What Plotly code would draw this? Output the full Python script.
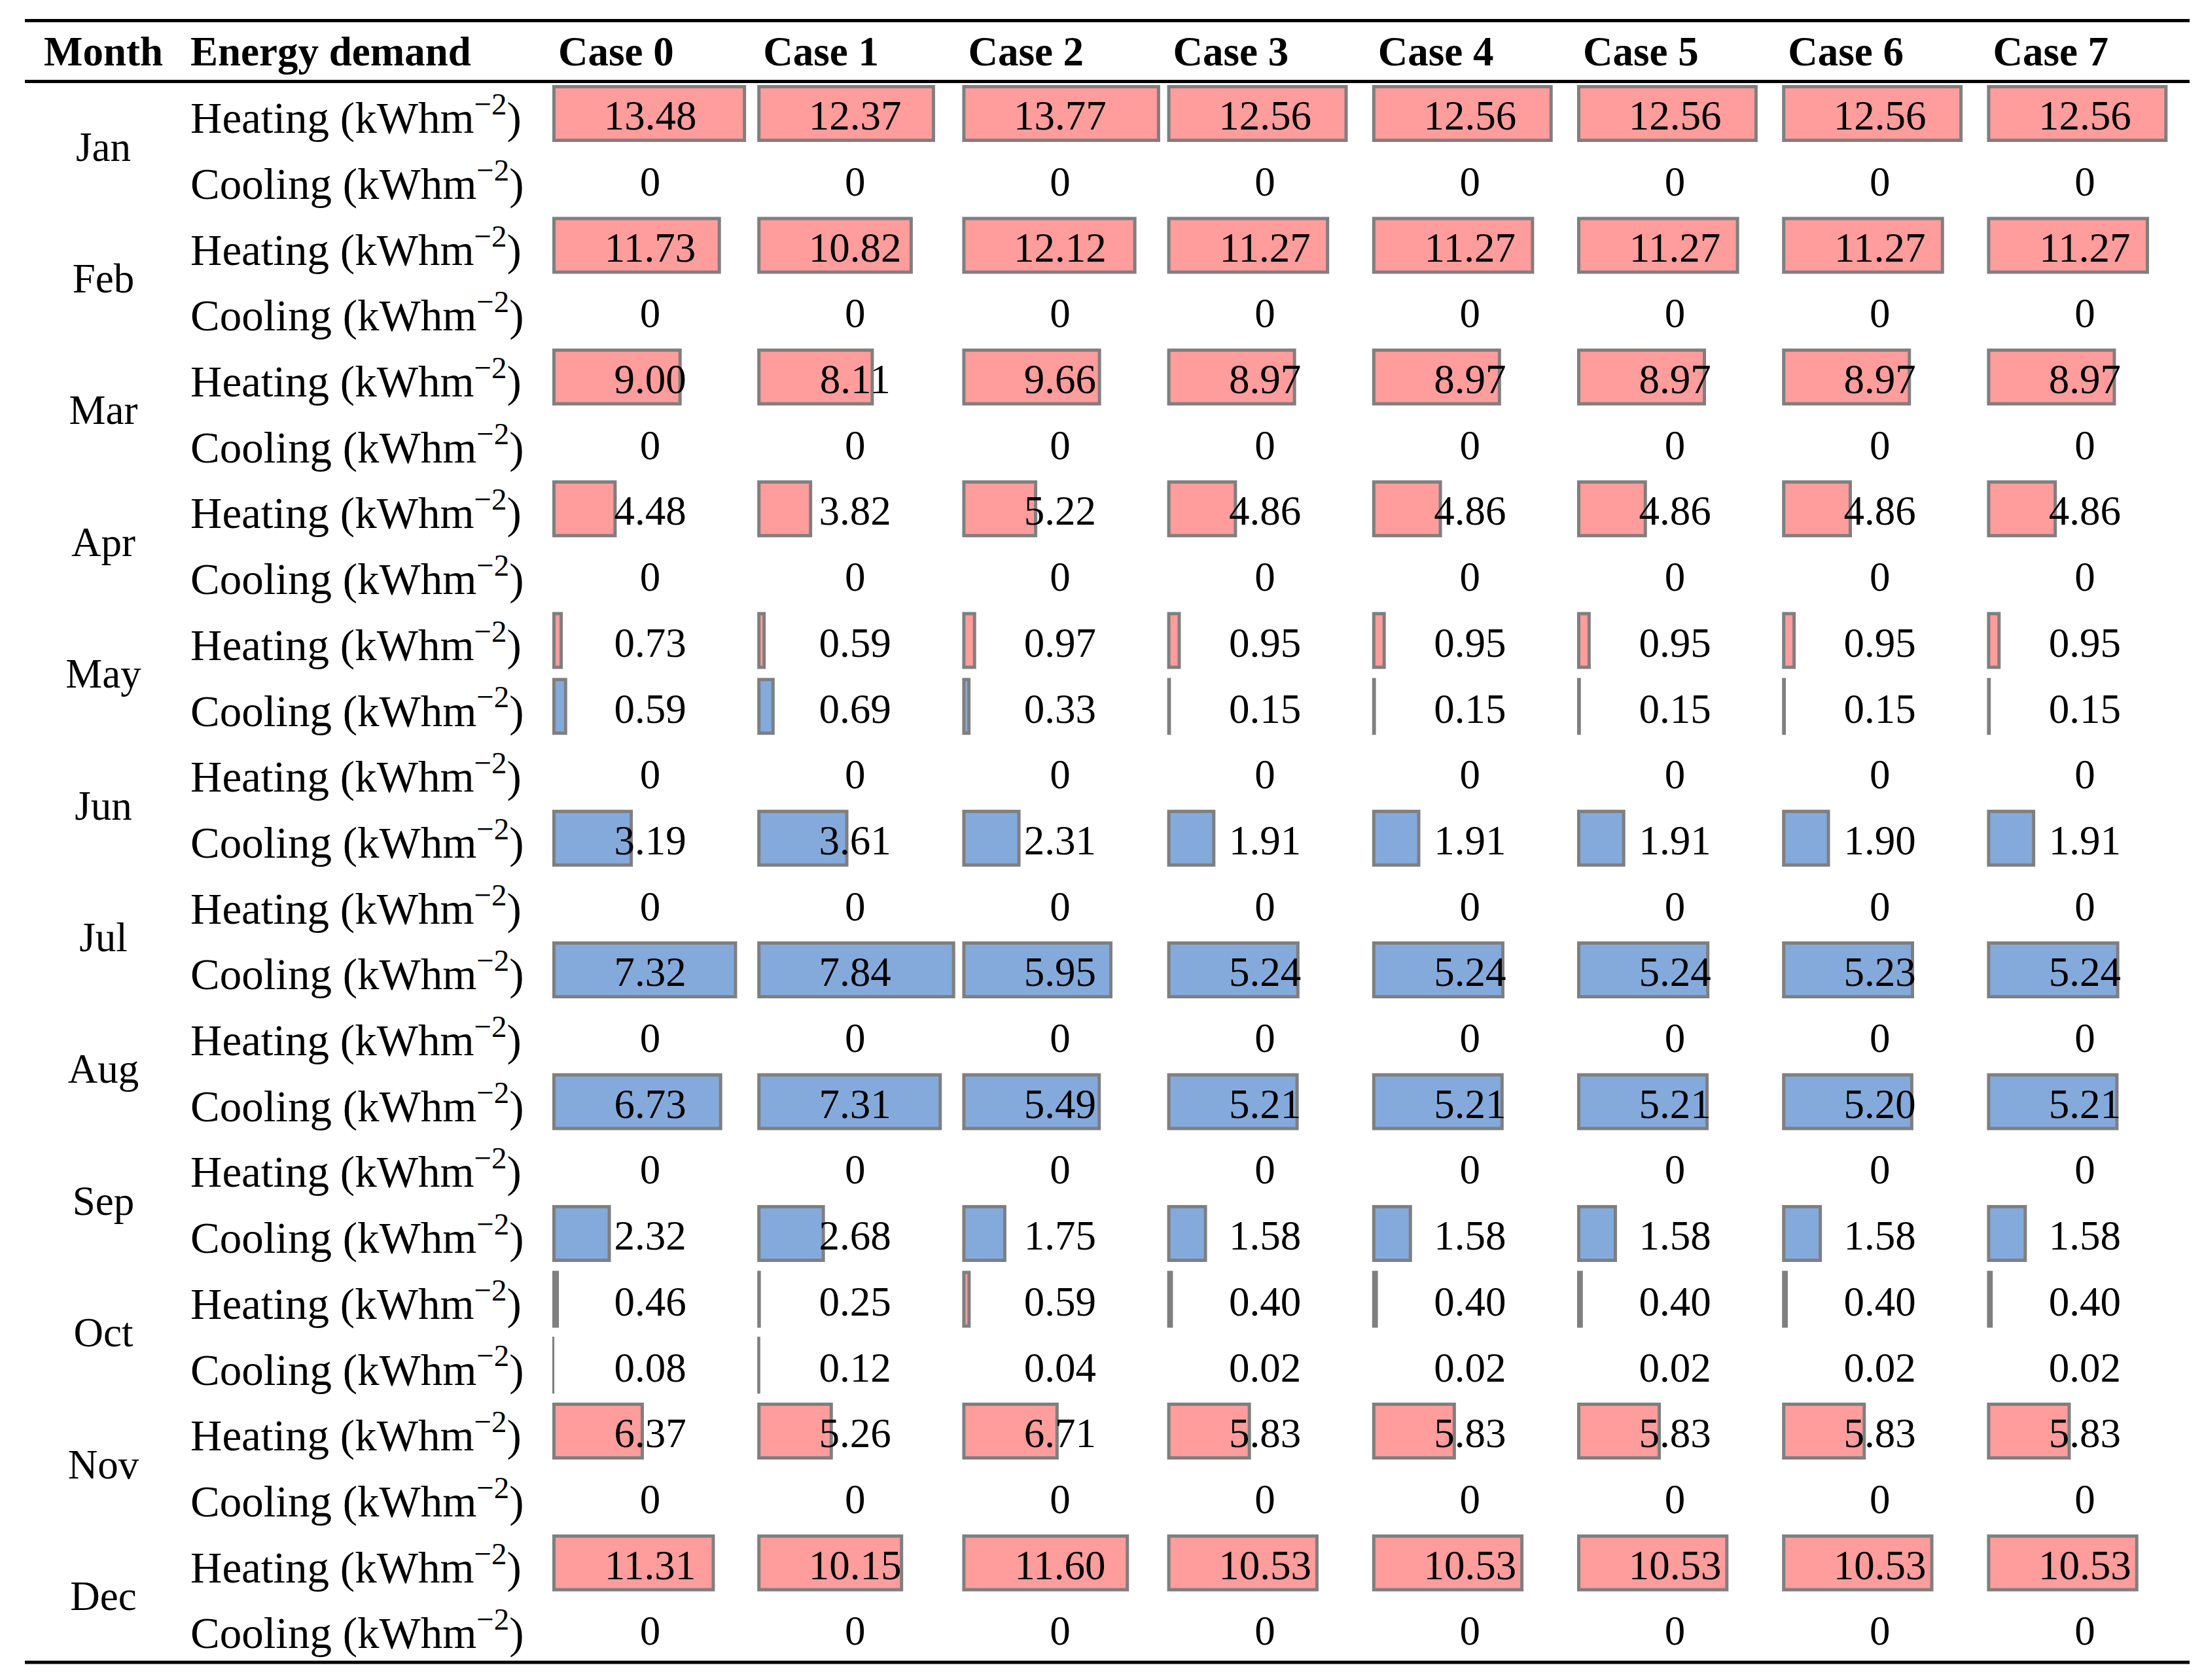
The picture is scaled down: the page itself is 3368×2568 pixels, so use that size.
import plotly.graph_objects as go

months = ["Jan", "Feb", "Mar", "Apr", "May", "Jun",
          "Jul", "Aug", "Sep", "Oct", "Nov", "Dec"]
cases = ["Case 0", "Case 1", "Case 2", "Case 3",
         "Case 4", "Case 5", "Case 6", "Case 7"]
demand_labels = ["Heating (kWhm<sup>−2</sup>)", "Cooling (kWhm<sup>−2</sup>)"]

# kWh/m2 per month (rows) and case (columns)
heating = [
    [13.48, 12.37, 13.77, 12.56, 12.56, 12.56, 12.56, 12.56],
    [11.73, 10.82, 12.12, 11.27, 11.27, 11.27, 11.27, 11.27],
    [9.00, 8.11, 9.66, 8.97, 8.97, 8.97, 8.97, 8.97],
    [4.48, 3.82, 5.22, 4.86, 4.86, 4.86, 4.86, 4.86],
    [0.73, 0.59, 0.97, 0.95, 0.95, 0.95, 0.95, 0.95],
    [0, 0, 0, 0, 0, 0, 0, 0],
    [0, 0, 0, 0, 0, 0, 0, 0],
    [0, 0, 0, 0, 0, 0, 0, 0],
    [0, 0, 0, 0, 0, 0, 0, 0],
    [0.46, 0.25, 0.59, 0.40, 0.40, 0.40, 0.40, 0.40],
    [6.37, 5.26, 6.71, 5.83, 5.83, 5.83, 5.83, 5.83],
    [11.31, 10.15, 11.60, 10.53, 10.53, 10.53, 10.53, 10.53],
]
cooling = [
    [0, 0, 0, 0, 0, 0, 0, 0],
    [0, 0, 0, 0, 0, 0, 0, 0],
    [0, 0, 0, 0, 0, 0, 0, 0],
    [0, 0, 0, 0, 0, 0, 0, 0],
    [0.59, 0.69, 0.33, 0.15, 0.15, 0.15, 0.15, 0.15],
    [3.19, 3.61, 2.31, 1.91, 1.91, 1.91, 1.90, 1.91],
    [7.32, 7.84, 5.95, 5.24, 5.24, 5.24, 5.23, 5.24],
    [6.73, 7.31, 5.49, 5.21, 5.21, 5.21, 5.20, 5.21],
    [2.32, 2.68, 1.75, 1.58, 1.58, 1.58, 1.58, 1.58],
    [0.08, 0.12, 0.04, 0.02, 0.02, 0.02, 0.02, 0.02],
    [0, 0, 0, 0, 0, 0, 0, 0],
    [0, 0, 0, 0, 0, 0, 0, 0],
]

# page geometry (axes run in page pixels)
W, H = 3368, 2568
PAD = 8  # default body margin of the html page
COL0, COL_STEP, BAR_MAX = 844, 313.2, 302.5
ROW0, ROW_STEP, BAR_H = 173.5, 100.7, 87
LABEL_X, MONTH_X, HEADER_Y = 291, 158, 84
FONT = "Liberation Serif"
FS = 63


def row_y(m, k):
    return ROW0 + (2 * m + k) * ROW_STEP


def fmt(v):
    return "0" if v == 0 else f"{v:.2f}"


fig = go.Figure()

for k, (data, color) in enumerate([(heating, "#FF9C9C"), (cooling, "#84AADC")]):
    scale = BAR_MAX / max(max(r) for r in data)
    xs, bases, ys, lws, hs = [], [], [], [], []
    for m, row in enumerate(data):
        for c, v in enumerate(row):
            if v <= 0:
                continue
            w = v * scale
            lw = min(5, w / 2) if w >= 2 else 0
            xs.append(w - lw if w >= 2 else 0)
            bases.append(COL0 + c * COL_STEP + lw / 2)
            ys.append(row_y(m, k))
            lws.append(lw)
            hs.append(BAR_H - lw)
    fig.add_trace(go.Bar(orientation="h", x=xs, base=bases, y=ys, width=hs,
                         marker=dict(color=color,
                                     line=dict(color="#7F7F7F", width=lws)),
                         hoverinfo="skip"))

# cell values
tx, ty, tt = [], [], []
for k, data in enumerate([heating, cooling]):
    for m, row in enumerate(data):
        for c, v in enumerate(row):
            tx.append(COL0 + c * COL_STEP + 149.5)
            ty.append(row_y(m, k) + 9)
            tt.append(fmt(v))
fig.add_trace(go.Scatter(x=tx, y=ty, text=tt, mode="text",
                         textposition="middle center",
                         textfont=dict(family=FONT, size=FS, color="black"),
                         hoverinfo="skip", cliponaxis=False))

# row labels
fig.add_trace(go.Scatter(
    x=[LABEL_X] * (2 * len(months)),
    y=[row_y(m, k) + 13 for m in range(len(months)) for k in range(2)],
    text=demand_labels * len(months), mode="text",
    textposition="middle right",
    textfont=dict(family=FONT, size=67, color="black"),
    hoverinfo="skip", cliponaxis=False))

# month labels
fig.add_trace(go.Scatter(
    x=[MONTH_X] * len(months),
    y=[(row_y(m, 0) + row_y(m, 1)) / 2 + 6 for m in range(len(months))],
    text=months, mode="text", textposition="middle center",
    textfont=dict(family=FONT, size=FS, color="black"),
    hoverinfo="skip", cliponaxis=False))

# header
fig.add_trace(go.Scatter(
    x=[MONTH_X], y=[HEADER_Y], text=["<b>Month</b>"], mode="text",
    textposition="middle center",
    textfont=dict(family=FONT, size=FS, color="black"),
    hoverinfo="skip", cliponaxis=False))
fig.add_trace(go.Scatter(
    x=[LABEL_X] + [COL0 + c * COL_STEP + 9 for c in range(len(cases))],
    y=[HEADER_Y] * (len(cases) + 1),
    text=["<b>Energy demand</b>"] + [f"<b>{s}</b>" for s in cases],
    mode="text", textposition="middle right",
    textfont=dict(family=FONT, size=FS, color="black"),
    hoverinfo="skip", cliponaxis=False))

for y in [31.5, 124.5, 2541]:
    fig.add_shape(type="line", x0=38, x1=3346, y0=y, y1=y,
                  line=dict(color="black", width=5), layer="above")

fig.update_layout(
    width=W - 2 * PAD, height=H - 2 * PAD,
    margin=dict(l=0, r=0, t=0, b=0),
    paper_bgcolor="white", plot_bgcolor="white",
    showlegend=False, barmode="overlay", hovermode=False,
    xaxis=dict(range=[PAD, W - PAD], visible=False, fixedrange=True),
    yaxis=dict(range=[H - PAD, PAD], visible=False, fixedrange=True),
)

fig.write_html("out.html")
